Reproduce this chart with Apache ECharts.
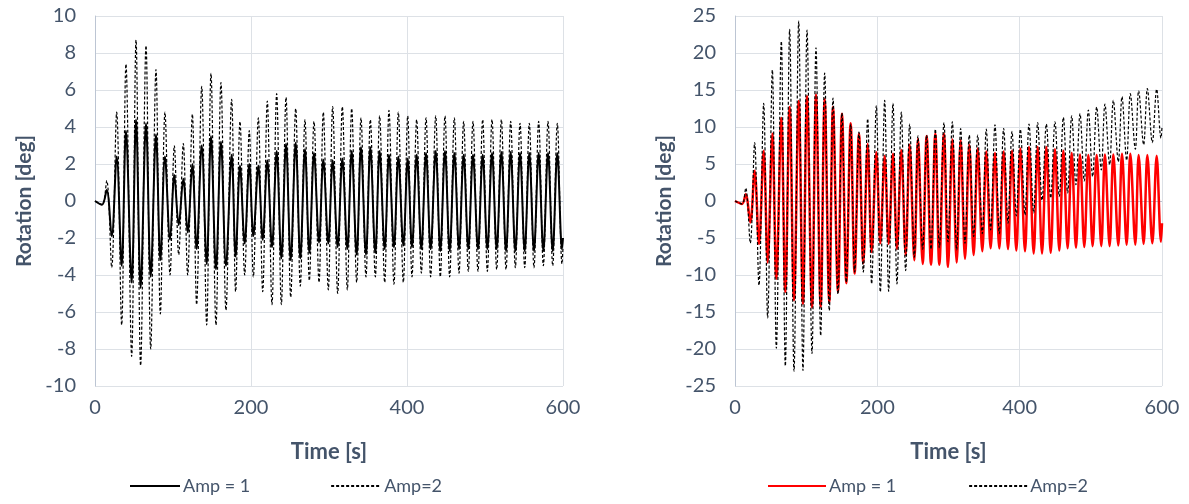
<!DOCTYPE html>
<html>
<head>
<meta charset="utf-8">
<title>Rotation vs time</title>
<script src="https://cdn.jsdelivr.net/npm/echarts@6/dist/echarts.min.js"></script>
<style>
  html, body { margin: 0; padding: 0; background: #fff; }
  .wrap { width: 1189px; height: 504px; display: flex; }
  #left { width: 594px; height: 504px; }
  #right { width: 595px; height: 504px; }
</style>
</head>
<body>
<div class="wrap">
  <div id="left"></div>
  <div id="right"></div>
</div>
<script>
// left panel: times of the peaks / troughs [s]
var leftTime = [
  0, 9, 15, 21.4, 27.8, 34.2, 39.7, 47, 52.6, 58.5,
  65.4, 71.4, 78.2, 83.8, 89.7, 96.2, 101.7, 107.3, 113.2, 118.8,
  124.8, 130.3, 136.8, 143.2, 148.7, 155.1, 161.5, 167.9, 175.2, 180.3,
  185.9, 191.9, 197.8, 203, 209.4, 215, 220.9, 226.9, 232.9, 238.9,
  244.9, 250.9, 257.3, 263.2, 269.2, 274.8, 280.8, 287.2, 292.7, 299.1,
  304.7, 311.1, 317.1, 323.5, 329.1, 335.5, 341, 347.4, 353, 359.4,
  364.9, 371.4, 376.9, 383.3, 388.9, 395.3, 400.9, 406.4, 412.4, 418.4,
  424.4, 430.3, 436.8, 442.7, 448.7, 454.7, 460.7, 466.7, 472.6, 478.6,
  484.6, 491, 497, 503, 509, 515, 521, 527, 532.9, 538.9,
  544.9, 550.9, 556.8, 562.8, 568.8, 574.8, 580.8, 586.8, 592.7, 598.7,
  600
];
// Amp = 1 (solid black) [deg]
var leftAmp1 = [
  0, -0.2, 0.6, -1.9, 2.4, -3.5, 3.8, -4.4, 4.4, -4.7,
  4.2, -4.1, 3.6, -3.2, 2.4, -2.1, 1.4, -1.3, 1.2, -1.7,
  2.0, -2.6, 3.0, -3.4, 3.5, -3.7, 3.2, -3.5, 2.5, -3.0,
  1.9, -2.3, 2.0, -1.9, 1.9, -2.1, 2.2, -2.5, 2.7, -3.1,
  3.1, -3.2, 3.15, -3.1, 2.8, -2.8, 2.6, -2.25, 2.25, -2.3,
  2.2, -2.5, 2.3, -2.6, 2.7, -2.9, 2.9, -2.9, 2.9, -2.8,
  2.7, -2.6, 2.5, -2.5, 2.4, -2.4, 2.3, -2.5, 2.5, -2.6,
  2.6, -2.6, 2.7, -2.7, 2.7, -2.7, 2.6, -2.6, 2.5, -2.6,
  2.5, -2.6, 2.5, -2.6, 2.6, -2.6, 2.65, -2.7, 2.65, -2.7,
  2.6, -2.7, 2.6, -2.7, 2.6, -2.7, 2.6, -2.7, 2.6, -2.6,
  -2
];
// Amp=2 (dashed black) [deg]
var leftAmp2 = [
  0, -0.2, 1.1, -3.6, 4.8, -6.7, 7.4, -8.4, 8.7, -8.9,
  8.4, -8.0, 7.1, -6.1, 4.8, -4.0, 3.0, -2.9, 3.1, -4.0,
  4.7, -5.6, 6.2, -6.7, 6.9, -6.7, 6.4, -5.9, 5.5, -4.9,
  4.3, -4.0, 3.8, -4.1, 4.5, -4.9, 5.4, -5.6, 5.8, -5.6,
  5.6, -5.2, 5.0, -4.6, 4.4, -4.3, 4.3, -4.4, 4.8, -4.8,
  5.1, -5.0, 5.1, -4.8, 5.0, -4.4, 4.5, -4.1, 4.4, -4.1,
  4.6, -4.4, 4.9, -4.5, 4.8, -4.4, 4.6, -4.1, 4.4, -3.9,
  4.5, -4.1, 4.6, -4.1, 4.6, -4.1, 4.5, -3.9, 4.3, -3.8,
  4.3, -3.8, 4.4, -3.8, 4.4, -3.7, 4.4, -3.7, 4.3, -3.6,
  4.2, -3.6, 4.2, -3.6, 4.3, -3.5, 4.3, -3.5, 4.2, -3.4,
  -2.5
];

// right panel
var rightTime = [
  0, 10, 15, 21.5, 27.6, 33.7, 40.3, 45.9, 52.5, 58.1,
  65.1, 70.7, 76.8, 82.9, 89.5, 95.5, 101.2, 108.2, 113.8, 120.4,
  126, 132.5, 137.7, 144.7, 150.3, 156.4, 162.5, 168.1, 174.2, 180.3,
  186.4, 192, 198.6, 204.2, 210.3, 215.9, 222, 227.6, 233.7, 239.8,
  245.4, 252, 257.1, 263.7, 269.3, 275.4, 281.5, 287.1, 293.6, 299.3,
  305.4, 311.5, 317.1, 323.2, 329.2, 335.3, 341, 347.5, 353.1, 359.2,
  365.3, 371.4, 377.5, 383.6, 389.2, 395.3, 401, 407.5, 413.1, 419.7,
  425.3, 431.4, 437.5, 443.6, 449.6, 455.7, 461.4, 467.4, 473.1, 479.1,
  484.8, 490.8, 496.5, 502.5, 508.2, 514.7, 519.8, 526.4, 531.6, 538.6,
  543.8, 550.3, 555.5, 562.5, 567.2, 574.2, 579.4, 586.4, 592.5, 598.5,
  600
];
// Amp = 1 (red)
var rightAmp1 = [
  0, -0.4, 0.9, -2.9, 4.1, -5.8, 6.8, -8.3, 9.1, -10.5,
  11.2, -12.3, 12.7, -13.4, 13.5, -13.9, 14.2, -14.4, 14.4, -14.3,
  13.8, -13.7, 12.7, -12.3, 11.8, -11.1, 10.5, -9.8, 9.1, -8.4,
  7.7, -6.9, 6.6, -5.7, 6.1, -5.8, 6.4, -6.5, 6.9, -7.3,
  7.6, -8.0, 8.4, -8.5, 8.8, -8.6, 9.1, -8.6, 9.1, -8.9,
  8.3, -8.3, 8.2, -7.8, 7.6, -7.3, 7.1, -6.8, 6.7, -6.4,
  6.5, -6.4, 6.7, -6.5, 6.8, -6.7, 7.1, -6.8, 7.3, -7.1,
  7.3, -7.1, 7.3, -7.0, 7.0, -6.7, 6.8, -6.4, 6.5, -6.3,
  6.3, -6.2, 6.2, -6.1, 6.2, -6.1, 6.3, -6.1, 6.3, -6.0,
  6.4, -5.9, 6.4, -5.9, 6.2, -5.8, 6.2, -5.7, 6.1, -5.5,
  -3
];
// Amp=2 (dashed black)
var rightAmp2 = [
  0, -0.4, 1.75, -5.7, 7.9, -11.4, 13.2, -15.8, 17.7, -19.9,
  21.6, -22.3, 23.2, -23.0, 24.3, -22.9, 23.1, -20.6, 20.7, -18.2,
  17.3, -14.8, 13.9, -12.6, 11.9, -11.0, 10.4, -9.6, 9.3, -9.6,
  11.1, -11.2, 12.9, -12.3, 13.6, -12.2, 13.2, -11.2, 12.0, -9.4,
  10.4, -7.6, 8.8, -6.5, 8.9, -6.5, 9.7, -6.3, 10.6, -5.5,
  10.7, -6.6, 9.8, -5.7, 8.9, -4.8, 8.9, -4.4, 9.7, -3.9,
  10.3, -4.4, 9.8, -3.0, 9.4, -2.0, 9.7, -1.9, 10.4, -1.6,
  10.6, 0.1, 10.4, 0.4, 10.7, 0.6, 11.3, 1.1, 11.5, 2.2,
  11.8, 2.7, 12.3, 3.3, 12.7, 4.2, 13.1, 4.9, 13.6, 5.3,
  14.1, 5.5, 14.5, 7.0, 14.9, 7.6, 15.2, 7.9, 15.1, 8.5,
  10
];

var TEXT = "#44546a";
var GRID = "#dde1e6";
var AXIS = "#bcc5d3";
var FONT = "Lato";

function pairs(t, v) {
  return t.map(function (x, i) { return [x, v[i]]; });
}

// horizontal gridlines, the one at zero a bit darker (axis crossing)
function splitColors(n, zeroIdx) {
  var arr = [];
  for (var i = 0; i < n; i++) arr.push(i === zeroIdx ? AXIS : GRID);
  return arr;
}

function drawPanel(el, cfg) {
  var myChart = echarts.init(el);
  myChart.setOption({
    animation: false,
    backgroundColor: "#fff",
    textStyle: { fontFamily: FONT },
    grid: { left: cfg.left, top: 16, width: cfg.width, height: 370 },
    legend: {
      left: cfg.legendLeft,
      top: 477,
      padding: 0,
      itemWidth: cfg.legendItem,
      itemHeight: 12,
      itemGap: cfg.legendGap,
      itemStyle: { opacity: 0 },
      textStyle: { color: TEXT, fontSize: 18, fontFamily: FONT, padding: [0, 0, 0, -2] },
      data: ["Amp = 1", "Amp=2"]
    },
    xAxis: {
      type: "value",
      min: 0,
      max: 600,
      interval: 200,
      name: "Time [s]",
      nameLocation: "middle",
      nameGap: 55,
      nameTextStyle: { color: TEXT, fontSize: 22, fontWeight: "bold", fontFamily: FONT },
      axisLine: { show: false, onZero: false },
      axisTick: { show: false },
      axisLabel: { color: TEXT, fontSize: 20, margin: 12, fontFamily: FONT },
      splitLine: { show: true, lineStyle: { color: GRID, width: 1 } }
    },
    yAxis: {
      type: "value",
      min: cfg.ymin,
      max: cfg.ymax,
      interval: cfg.yint,
      name: "Rotation [deg]",
      nameLocation: "middle",
      nameGap: cfg.nameGap,
      nameTextStyle: { color: TEXT, fontSize: 21, fontWeight: "bold", fontFamily: FONT },
      axisLine: { show: true, onZero: false, lineStyle: { color: AXIS, width: 1 } },
      axisTick: { show: false },
      axisLabel: { color: TEXT, fontSize: 20, margin: 19, fontFamily: FONT },
      splitLine: { show: true, lineStyle: { color: splitColors(11, 5), width: 1 } }
    },
    series: [
      {
        name: "Amp = 1",
        type: "line",
        data: pairs(cfg.time, cfg.amp1),
        symbol: "none",
        smooth: 0.35,
        itemStyle: { color: cfg.color1 },
        lineStyle: { color: cfg.color1, width: cfg.width1 }
      },
      {
        name: "Amp=2",
        type: "line",
        data: pairs(cfg.time, cfg.amp2),
        symbol: "none",
        smooth: 0.35,
        itemStyle: { color: "#000" },
        lineStyle: { color: "#000", width: 1.2, type: [3, 2] }
      }
    ]
  });
}

drawPanel(document.getElementById("left"), {
  left: 95, width: 468, ymin: -10, ymax: 10, yint: 2, nameGap: 58,
  legendLeft: 129, legendItem: 50, legendGap: 80,
  time: leftTime, amp1: leftAmp1, amp2: leftAmp2,
  color1: "#000", width1: 2
});

drawPanel(document.getElementById("right"), {
  left: 141, width: 427, ymin: -25, ymax: 25, yint: 5, nameGap: 58,
  legendLeft: 173, legendItem: 58, legendGap: 72,
  time: rightTime, amp1: rightAmp1, amp2: rightAmp2,
  color1: "#ff0000", width1: 2.5
});
</script>
</body>
</html>
